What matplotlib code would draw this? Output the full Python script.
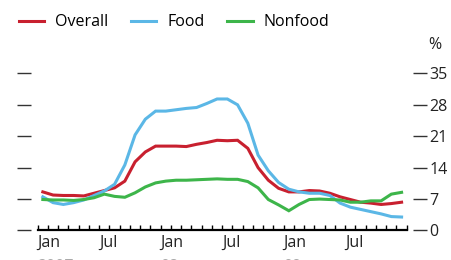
import numpy as np
import matplotlib
matplotlib.use('Agg')
import matplotlib.pyplot as plt
from matplotlib.ticker import MultipleLocator, FixedLocator, NullFormatter

plt.rcParams['font.family'] = ['Open Sans', 'DejaVu Sans']

# monthly readings, Jan 2007 - Dec 2009 (percent)
overall = [8.6, 7.9, 7.8, 7.8, 7.7, 8.3, 8.9, 9.5, 11.0, 15.3, 17.5, 18.8,
           18.8, 18.8, 18.7, 19.2, 19.6, 20.1, 20.0, 20.1, 18.3, 14.0, 11.2, 9.4,
           8.6, 8.6, 8.9, 8.8, 8.3, 7.5, 6.9, 6.3, 6.1, 5.8, 6.0, 6.3]
food = [7.5, 6.2, 5.8, 6.2, 6.8, 7.8, 8.8, 10.3, 14.6, 21.3, 24.8, 26.6,
        26.6, 26.9, 27.2, 27.4, 28.3, 29.3, 29.3, 28.0, 23.9, 16.8, 13.3, 10.7,
        9.2, 8.6, 8.3, 8.3, 7.8, 6.1, 5.2, 4.7, 4.2, 3.7, 3.1, 3.0]
nonfood = [6.9, 6.8, 6.8, 6.7, 6.9, 7.3, 8.1, 7.6, 7.4, 8.4, 9.7, 10.6,
           11.0, 11.2, 11.2, 11.3, 11.4, 11.5, 11.4, 11.4, 10.9, 9.5, 6.9, 5.7,
           4.4, 5.8, 6.9, 7.0, 6.9, 6.8, 6.3, 6.3, 6.6, 6.6, 8.1, 8.5]
series = ['Overall', 'Food', 'Nonfood']
colors = ['#C8202F', '#5BB7E6', '#3DB54A']
month_labels = ['Jan', 'Jul', 'Jan', 'Jul', 'Jan', 'Jul']
year_labels = ['2007', '08', '09']
y_ticks = [0, 7, 14, 21, 28, 35]

fig = plt.figure(figsize=(4.51, 2.60), dpi=100)
ax = fig.add_axes([0.0836, 0.1135, 0.8182, 0.6042])

x = np.arange(len(overall)) + 0.5
for vals, name, c in zip([overall, food, nonfood], series, colors):
    ax.plot(x, vals, color=c, lw=2.2, label=name, solid_joinstyle='miter')

ax.set_xlim(0, 36)
ax.set_ylim(0, 35)

# y axis: free-floating ticks on both sides, labels on the right
for s in ['top', 'left', 'right']:
    ax.spines[s].set_visible(False)
ax.spines['left'].set_position(('outward', 4.5))
ax.spines['right'].set_position(('outward', 4.5))
ax.yaxis.set_major_locator(FixedLocator(y_ticks))
ax.tick_params(axis='y', which='major', left=True, right=True,
               labelleft=False, labelright=True, direction='out',
               length=10, width=1.0, color='#333333', pad=2,
               labelsize=11.5, labelcolor='#222222')

# x axis: monthly tick marks, labels at Jan / Jul
ax.spines['bottom'].set_linewidth(1.6)
ax.xaxis.set_major_locator(FixedLocator(np.arange(0, 36, 6)))
ax.xaxis.set_minor_locator(MultipleLocator(1))
ax.set_xticklabels(month_labels, ha='left')
ax.tick_params(axis='x', which='both', direction='in', length=3.5,
               width=1.0, color='black', pad=3, labelsize=11.5,
               labelcolor='#222222')
ax.xaxis.set_minor_formatter(NullFormatter())

# year labels, mostly cut off at the bottom edge (as in the source)
for i, yl in enumerate(year_labels):
    ax.text(i * 12, -0.18, yl, transform=ax.get_xaxis_transform(),
            ha='left', va='top', fontsize=11.5, color='#aaaaaa')

fig.text(0.963, 0.828, '%', ha='center', va='center', fontsize=11.5,
         color='#222222')

fig.legend(loc='upper left', bbox_to_anchor=(0.027, 0.97), ncol=3,
           frameon=False, fontsize=11.5, handlelength=1.6,
           handletextpad=0.7, columnspacing=1.4, borderaxespad=0)

fig.savefig('out.png', dpi=100)
